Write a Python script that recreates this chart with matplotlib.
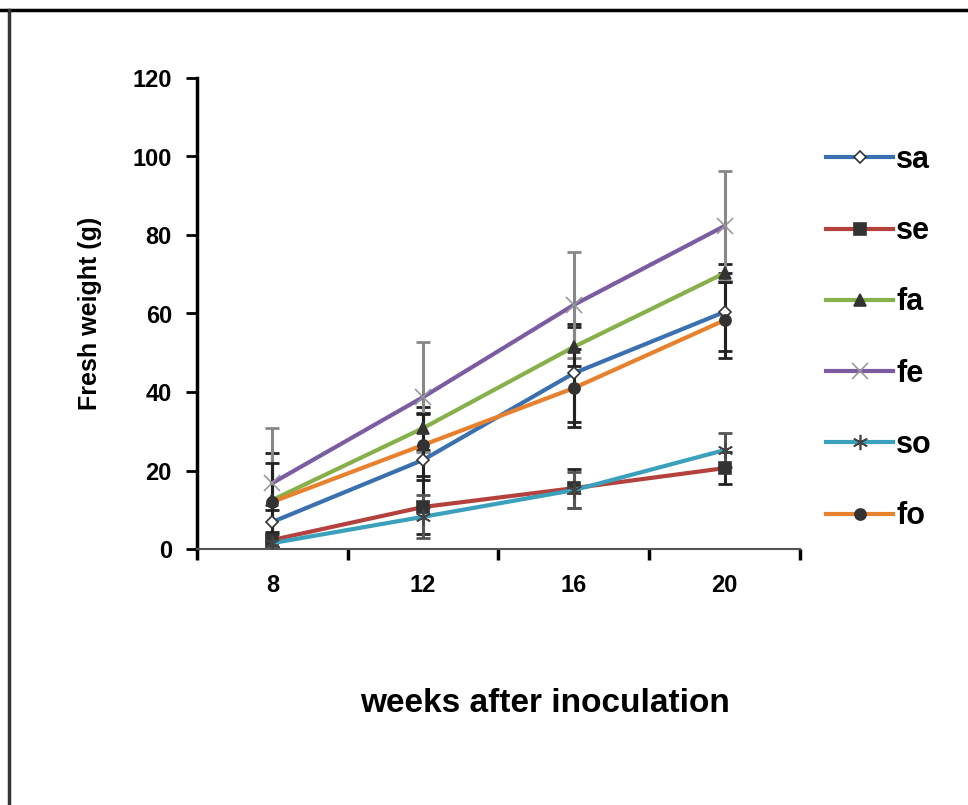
import matplotlib
matplotlib.use("Agg")
import matplotlib.pyplot as plt
from matplotlib.lines import Line2D
import numpy as np

plt.rcParams['font.family'] = ['Liberation Sans', 'DejaVu Sans']
plt.rcParams['font.weight'] = 'bold'

weeks = ["8", "12", "16", "20"]
series = ["sa", "se", "fa", "fe", "so", "fo"]

sa = [6.9, 22.7, 44.8, 60.4]
se = [2.3, 10.7, 15.5, 20.6]
fa = [12.5, 30.8, 51.5, 70.3]
fe = [16.8, 38.7, 62.2, 82.3]
so = [1.5, 8.2, 15.0, 25.2]
fo = [12.0, 26.5, 41.0, 58.3]

sa_err = [3.0, 12.0, 12.4, 10.0]
se_err = [2.0, 7.0, 5.0, 4.0]
fa_err = [12.0, 5.5, 5.0, 2.2]
fe_err = [14.0, 14.0, 13.5, 14.0]
so_err = [1.0, 5.5, 4.5, 4.4]
fo_err = [10.0, 8.0, 10.0, 9.6]

values = [sa, se, fa, fe, so, fo]
errors = [sa_err, se_err, fa_err, fe_err, so_err, fo_err]
colors = ["#3A70B0", "#B5413C", "#86B04A", "#7B5CA3", "#3AA0BC", "#E8812E"]
markers = ["D", "s", "^", "x", (6, 2, 0), "o"]
mfaces = ["white", "#333333", "#333333", "#999999", "#444444", "#333333"]
medges = ["#333333", "#333333", "#333333", "#999999", "#444444", "#333333"]
msizes = [6, 8, 8, 11, 11, 8]
ecolors = ["#222222", "#222222", "#222222", "#888888", "#555555", "#222222"]

fig = plt.figure(figsize=(9.68, 8.05), dpi=100, facecolor="white")
ax = fig.add_axes([197 / 968, 1 - 549 / 805, 603 / 968, 471 / 805])

x = np.arange(len(weeks))
for i, name in enumerate(series):
    ax.errorbar(x, values[i], yerr=errors[i], fmt="none", ecolor=ecolors[i],
                elinewidth=2.2, capsize=5, capthick=2, zorder=2)
for i, name in enumerate(series):
    ax.plot(x, values[i], color=colors[i], lw=3, marker=markers[i],
            markersize=msizes[i], markerfacecolor=mfaces[i],
            markeredgecolor=medges[i], markeredgewidth=1.2,
            label=name, zorder=3)

ax.set_xlim(-0.5, 3.5)
ax.set_ylim(0, 120)
ax.set_yticks(range(0, 121, 20))
ax.set_xticks(x)
ax.set_xticklabels(weeks)
ax.set_xticks(np.arange(-0.5, 4, 1), minor=True)
ax.tick_params(axis="x", which="major", length=0, pad=18, labelsize=17)
ax.tick_params(axis="x", which="minor", length=8, width=2.5, direction="out")
ax.tick_params(axis="y", length=8, width=2, direction="out", labelsize=17, pad=10)

for s in ["top", "right"]:
    ax.spines[s].set_visible(False)
ax.spines["left"].set_linewidth(2.5)
ax.spines["left"].set_color("black")
ax.spines["bottom"].set_linewidth(1.5)
ax.spines["bottom"].set_color("#555555")

ax.set_ylabel("Fresh weight (g)", fontsize=18, fontweight="bold", labelpad=22)
fig.text(545 / 968, 1 - 703 / 805, "weeks after inoculation", ha="center",
         va="center", fontsize=24, fontweight="bold")

fig.legend(loc="upper left", bbox_to_anchor=(826 / 968, 1 - 145 / 805),
           frameon=False, fontsize=22, handlelength=2.2, handletextpad=0.1,
           labelspacing=1.35, borderpad=0, borderaxespad=0)

# outer frame lines (top and left)
fig.add_artist(Line2D([0, 1], [1 - 10 / 805, 1 - 10 / 805], color="black", lw=2.5,
                      transform=fig.transFigure))
fig.add_artist(Line2D([9 / 968, 9 / 968], [0, 1 - 10 / 805], color="#333333", lw=2.5,
                      transform=fig.transFigure))

fig.savefig("out.png", dpi=100, facecolor="white")
